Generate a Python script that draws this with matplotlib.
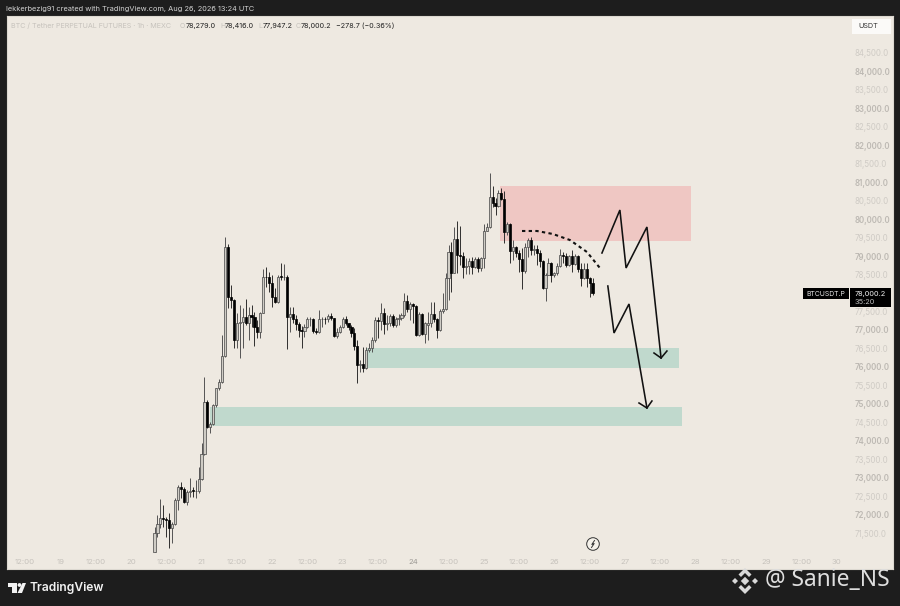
#!/usr/bin/env python3
"""BTC perpetual 1h candles with supply/demand zones, TradingView snapshot look."""
import matplotlib

matplotlib.use("Agg")
import matplotlib.pyplot as plt
from matplotlib.patches import Ellipse, Polygon, Rectangle

W, H = 900, 606
BG_DARK = "#1d1d1d"
PANEL = "#eee9e1"

# first candle is Aug 20 08:00, one candle per hour; x is hours since Aug 20 00:00
FIRST_HOUR = 8

opens = [
    71008, 71522, 71756, 71909, 71882, 71864, 71639, 71756, 72405, 72765,
    72693, 72360, 72630, 72665, 72640, 72650, 72963, 73648, 75062, 74387,
    74459, 74973, 75423, 75585, 76297, 79252, 77883, 77811, 76729, 77198,
    77225, 77360, 77180, 77405, 77360, 77090, 76955, 77450, 78441, 78423,
    78279, 77883, 77766, 78470, 78423, 78441, 77360, 77432, 77288, 77162,
    77000, 76982, 77090, 77288, 77306, 76982, 76955, 77288, 77306, 77288,
    77378, 77315, 76837, 76955, 77090, 77288, 77180, 77072, 76910, 76576,
    76054, 76081, 75964, 76459, 76504, 76730, 77270, 77243, 77450, 77162,
    77180, 77378, 77135, 77288, 77315, 77405, 77793, 77559, 77703, 77658,
    76865, 77432, 76892, 77130, 77180, 77432, 77288, 77000, 77522, 77568,
    78396, 79117, 78550, 79460, 79027, 79000, 78694, 78730, 78865, 78694,
    78919, 78685, 78937, 79685, 79793, 80604, 80442, 80352, 80694, 80532,
    79658, 79865, 79144, 79234, 79072, 78919, 78595, 79252, 79432, 79162,
    79180, 79072, 78865, 78126, 78486, 78820, 78486, 78532, 78730, 79027,
    79009, 78757, 79000, 78784, 79000, 78640, 78396, 78640, 78396, 78279,
]
highs = [
    71684, 71999, 72423, 72270, 71954, 72044, 71819, 72450, 72810, 72900,
    72765, 72675, 72990, 72765, 72945, 73306, 73936, 75720, 75108, 74522,
    75000, 75441, 75666, 76865, 79522, 79324, 78216, 77829, 77450, 77675,
    77585, 77829, 77630, 77675, 77495, 77270, 77495, 78640, 78712, 78576,
    78486, 78126, 78486, 78802, 78784, 78486, 77630, 77630, 77405, 77225,
    77108, 77162, 77360, 77342, 77315, 77045, 77540, 77360, 77360, 77432,
    77450, 77315, 77045, 77135, 77360, 77378, 77198, 77135, 77045, 76729,
    76189, 76549, 76549, 76639, 76820, 77360, 77360, 77739, 77585, 77405,
    77423, 77423, 77360, 77432, 77450, 77991, 77946, 77766, 77721, 77676,
    77495, 77450, 77225, 77495, 77766, 77766, 77315, 77559, 77991, 78532,
    79297, 79388, 79793, 79955, 79811, 79117, 78937, 78937, 78982, 78964,
    78982, 78982, 79865, 79901, 81235, 80892, 80559, 80784, 80829, 80766,
    79928, 79883, 79433, 79279, 79162, 79207, 79342, 79477, 79522, 79297,
    79297, 79162, 78892, 78532, 78937, 78847, 78577, 78802, 79180, 79117,
    79072, 79027, 79162, 79054, 79027, 78802, 78820, 78802, 78442, 78416,
]
lows = [
    71008, 71414, 71639, 71684, 71414, 71098, 71233, 71729, 72134, 72450,
    72315, 72270, 72495, 72495, 72450, 72585, 72945, 73621, 74342, 74207,
    74432, 74927, 75378, 75558, 76279, 77585, 77585, 76504, 76504, 76234,
    76504, 77135, 76729, 77090, 76567, 76775, 76775, 77450, 78171, 78036,
    77612, 77720, 77720, 78351, 78351, 76486, 76955, 77180, 77000, 76820,
    76504, 76820, 77045, 77108, 76910, 76892, 76910, 77090, 77162, 77225,
    77270, 76820, 76775, 76910, 77045, 77135, 77000, 76820, 76459, 75576,
    75874, 75874, 75937, 76414, 76414, 76684, 76775, 77000, 76892, 77000,
    77108, 77090, 77090, 77135, 77270, 77360, 77495, 77270, 77180, 76847,
    76838, 76865, 76640, 76730, 77090, 77225, 76775, 76982, 77450, 77541,
    77811, 78036, 78532, 78532, 78757, 78396, 78514, 78514, 78514, 78667,
    78577, 78604, 78667, 79685, 79748, 80334, 80108, 80316, 80514, 79342,
    79568, 78802, 78892, 78982, 78577, 78099, 78532, 78982, 79027, 79027,
    78757, 78712, 78099, 77793, 78486, 78306, 78442, 78486, 78712, 78802,
    78712, 78730, 78577, 78757, 78577, 78189, 78369, 78171, 77901, 77947.2,
]
closes = [
    71522, 71756, 71909, 71882, 71864, 71639, 71756, 72405, 72765, 72693,
    72360, 72630, 72648, 72640, 72650, 72963, 73648, 75062, 74387, 74459,
    74973, 75423, 75585, 76297, 79252, 77883, 77811, 76729, 77198, 77225,
    77360, 77180, 77405, 77360, 77090, 76955, 77450, 78441, 78423, 78279,
    77883, 77766, 78441, 78423, 78441, 77360, 77432, 77288, 77162, 77000,
    76982, 77090, 77288, 77306, 76982, 76955, 77288, 77306, 77288, 77378,
    77315, 76837, 76955, 77090, 77288, 77180, 77072, 76910, 76576, 76054,
    76081, 75964, 76459, 76504, 76730, 77270, 77243, 77450, 77162, 77180,
    77378, 77135, 77288, 77315, 77405, 77793, 77559, 77703, 77658, 76865,
    77432, 76892, 77180, 77180, 77432, 77288, 77000, 77522, 77568, 78396,
    79117, 78550, 79460, 79027, 79000, 78694, 78730, 78865, 78694, 78919,
    78685, 78937, 79685, 79793, 80604, 80442, 80352, 80694, 80532, 79658,
    79865, 79144, 79234, 79072, 78919, 78595, 79252, 79432, 79162, 79180,
    79072, 78865, 78126, 78486, 78820, 78486, 78532, 78730, 79027, 79009,
    78757, 79000, 78784, 79000, 78640, 78396, 78640, 78396, 78279, 78000.2,
]

# 78,000 sits under the last price tag in the reference, so it has no label
price_ticks = [71500 + 500 * i for i in range(27) if 71500 + 500 * i != 78000]
time_ticks = [-36 + 12 * i for i in range(24)]
time_labels = [
    "12:00", "19", "12:00", "20", "12:00", "21", "12:00", "22", "12:00", "23",
    "12:00", "24", "12:00", "25", "12:00", "26", "12:00", "27", "12:00", "28",
    "12:00", "29", "12:00", "30",
]

# zones: hour from, hour to, price bottom, price top
red_zone = (125.5, 190.5, 79405, 80892)
green_zones = [(80.3, 186.4, 75973, 76513), (26.9, 187.4, 74405, 74918)]

# hand drawn arrows and the dashed curve, (hour, price)
arrow_a = [(160.2, 79081), (166.3, 80243), (168.4, 78676), (175.5, 79784), (180.3, 76243)]
head_a = [(177.9, 76378), (180.3, 76243), (182.3, 76432)]
arrow_b = [(162.2, 78189), (164.3, 76919), (169.4, 77703), (175.5, 74892)]
head_b = [(172.8, 75027), (175.5, 74892), (177.2, 75081)]
curve = [(133, 79676), (138.1, 79676), (143.5, 79595), (149.3, 79432), (155.1, 79108), (159.5, 78676)]

plt.rcParams["font.family"] = ["Inter", "DejaVu Sans"]

fig = plt.figure(figsize=(W / 100, H / 100), dpi=100, facecolor=BG_DARK)
ax = fig.add_axes([7 / W, 1 - 569 / H, 886 / W, 553 / H], facecolor=PANEL)
ax.set_xlim(-42.18, 259.2)
ax.set_ylim(70540, 85487)
for s in ax.spines.values():
    s.set_color("#dcd8d0")
    s.set_linewidth(0.8)

# zones under the candles
x0, x1, y0, y1 = red_zone
ax.add_patch(Rectangle((x0, y0), x1 - x0, y1 - y0, fc="#efc7c3", ec="none", zorder=1))
for x0, x1, y0, y1 in green_zones:
    ax.add_patch(Rectangle((x0, y0), x1 - x0, y1 - y0, fc="#c0d9cd", ec="none", zorder=1))

# candles
for i, (o, h, l, c) in enumerate(zip(opens, highs, lows, closes)):
    x = FIRST_HOUR + i
    up = c >= o
    ax.vlines(x, l, h, color="#4a4a4a" if up else "#222222", lw=0.65, zorder=2)
    ax.add_patch(Rectangle((x - 0.36, min(o, c)), 0.72, max(abs(c - o), 12),
                           fc="#cfccc5" if up else "#000000",
                           ec="#444444" if up else "#000000", lw=0.5, zorder=3))

# drawings
for path in (arrow_a, head_a, arrow_b, head_b):
    ax.plot(*zip(*path), color="#111111", lw=1.15, zorder=4, solid_joinstyle="miter")
ax.plot(*zip(*curve), color="#111111", lw=1.5, ls=(0, (1.6, 1.6)), zorder=4)

# axes labels live inside the panel
ax.yaxis.tick_right()
ax.set_yticks(price_ticks)
ax.set_yticklabels([f"{p:,.1f}" for p in price_ticks])
ax.tick_params(axis="y", length=0, pad=-27.5, labelsize=5.7)
for p, lab in zip(price_ticks, ax.get_yticklabels()):
    major = p % 1000 == 0
    lab.set_color("#bdb9b3" if major else "#cfcbc5")
    lab.set_fontweight("semibold" if major else "normal")

ax.set_xticks(time_ticks)
ax.set_xticklabels(time_labels)
ax.tick_params(axis="x", length=0, pad=-7, labelsize=5.6, colors="#c6c2bc")
ax.get_xticklabels()[11].set_color("#9d9a95")


def px_rect(x0, y0, x1, y1, **kw):
    fig.add_artist(Rectangle((x0 / W, 1 - y1 / H), (x1 - x0) / W, (y1 - y0) / H,
                             transform=fig.transFigure, **kw))


def px_poly(points, **kw):
    fig.add_artist(Polygon([(x / W, 1 - y / H) for x, y in points],
                           transform=fig.transFigure, **kw))


def px_circle(x, y, r, **kw):
    fig.add_artist(Ellipse((x / W, 1 - y / H), 2 * r / W, 2 * r / H,
                           transform=fig.transFigure, **kw))


def px_text(x, y, s, **kw):
    fig.text(x / W, 1 - y / H, s, va="center", **kw)


# header
px_text(6, 9.5, "lekkerbezig91 created with TradingView.com, Aug 26, 2026 13:24 UTC",
        color="#d4d4d4", fontsize=5.3)
px_text(11, 26, "BTC / Tether PERPETUAL FUTURES · 1h · MEXC", color="#c6c2bc", fontsize=5.15)
legend_bits = [(180, 186, "O", "78,279.0"), (220, 225, "H", "78,416.0"),
               (258, 263, "L", "77,947.2"), (296, 301, "C", "78,000.2")]
for kx, vx, key, val in legend_bits:
    px_text(kx, 26, key, color="#c6c2bc", fontsize=5.0)
    px_text(vx, 26, val, color="#222222", fontsize=5.2)
px_text(336, 26, "−278.7 (−0.36%)", color="#222222", fontsize=5.2)

# USDT box and last price tags
px_rect(852, 19, 891, 34, fc="#fbfaf8", ec="none")
px_text(858, 26.5, "USDT", color="#333333", fontsize=5.2)
px_rect(803, 288, 849, 299, fc="#000000", ec="none")
px_text(806, 293.5, "BTCUSDT.P", color="#e8e8e8", fontsize=4.9)
px_rect(850, 288, 891, 307, fc="#000000", ec="none")
px_text(855, 293.5, "78,000.2", color="#f0f0f0", fontsize=5.3)
px_text(855, 302, "35:20", color="#bdbdbd", fontsize=5.3)

# lightning badge on the time axis
px_circle(593, 544, 6.3, fc="#f4f1ea", ec="#333333", lw=0.7)
fig.add_artist(plt.Line2D([594.5 / W, 591.8 / W, 594.2 / W, 591.5 / W],
                          [1 - 540.5 / H, 1 - 544.5 / H, 1 - 543.5 / H, 1 - 547.5 / H],
                          transform=fig.transFigure, color="#333333", lw=0.7))

# TradingView mark and wordmark
px_poly([(8, 583), (17, 583), (17, 593), (12, 593), (12, 587), (8, 587)], fc="#f2f2f2", ec="none")
px_circle(19.5, 585, 1.9, fc="#f2f2f2", ec="none")
px_poly([(17.5, 593), (22, 593), (26, 583), (22.5, 583)], fc="#f2f2f2", ec="none")
px_text(29.5, 588, "TradingView", color="#f2f2f2", fontsize=8.7, fontweight="semibold")

# watermark
px_text(765, 580.5, "@ Sanie_NS", color="#dedede", fontsize=16.4, fontweight="light",
        family=["Noto Sans", "DejaVu Sans"])
mark = "#d9d9d9"
for cx, cy, r in [(745, 581, 4.2), (735, 581, 3.0), (755, 581, 3.0)]:
    px_poly([(cx - r, cy), (cx, cy - r), (cx + r, cy), (cx, cy + r)], fc=mark, ec="none")
px_poly([(745, 568), (751.5, 574.5), (749, 577), (745, 573), (741, 577), (738.5, 574.5)], fc=mark, ec="none")
px_poly([(745, 594), (751.5, 587.5), (749, 585), (745, 589), (741, 585), (738.5, 587.5)], fc=mark, ec="none")

fig.savefig("out.png", dpi=100, facecolor=BG_DARK)
